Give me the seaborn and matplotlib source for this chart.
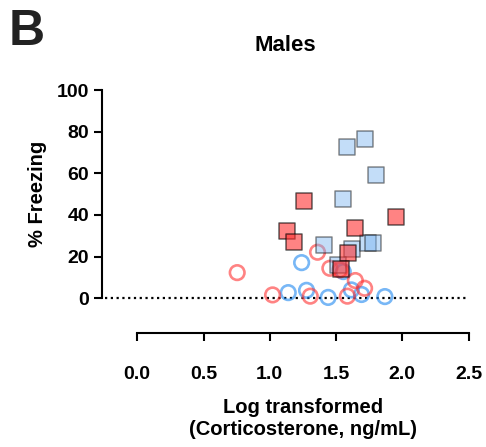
import matplotlib
matplotlib.use("Agg")
import matplotlib.pyplot as plt
import seaborn as sns

# ---- data ----
blue_sq_x = [1.579, 1.720, 1.800, 1.551, 1.410, 1.617, 1.742, 1.780, 1.514]
blue_sq_y = [72.8, 76.6, 59.2, 47.8, 25.7, 23.7, 26.7, 26.7, 16.0]
red_sq_x = [1.127, 1.182, 1.259, 1.642, 1.951, 1.591, 1.536]
red_sq_y = [32.5, 26.9, 46.7, 33.6, 39.0, 21.6, 14.0]
blue_ci_x = [1.240, 1.554, 1.615, 1.692, 1.868, 1.440, 1.277, 1.139]
blue_ci_y = [17.1, 12.8, 4.0, 1.8, 0.8, 0.4, 3.8, 2.7]
red_ci_x = [0.754, 1.360, 1.453, 1.529, 1.645, 1.715, 1.585, 1.305, 1.021]
red_ci_y = [12.3, 22.1, 14.4, 13.6, 8.5, 4.8, 1.0, 1.0, 1.6]

x_ticks = [0.0, 0.5, 1.0, 1.5, 2.0, 2.5]
x_ticklabels = ["0.0", "0.5", "1.0", "1.5", "2.0", "2.5"]
y_ticks = [0, 20, 40, 60, 80, 100]

sns.set_style("ticks")
plt.rcParams["font.family"] = ["Liberation Sans", "DejaVu Sans"]
plt.rcParams["font.weight"] = "bold"
plt.rcParams["text.color"] = "black"
plt.rcParams["axes.labelcolor"] = "black"

fig = plt.figure(figsize=(4.86, 4.47), dpi=100)
ax = fig.add_axes([0.2093, 0.255, 0.755, 0.5436])

RED = "#FF3030"
BLUE_SQ = "#7AB4F0"
BLUE_CI = "#1E88F0"

sns.scatterplot(x=blue_ci_x, y=blue_ci_y, ax=ax, marker="o", s=110,
                facecolors="none", edgecolor=BLUE_CI, linewidth=1.9, alpha=0.6, zorder=3)
sns.scatterplot(x=red_ci_x, y=red_ci_y, ax=ax, marker="o", s=110,
                facecolors="none", edgecolor=RED, linewidth=1.9, alpha=0.6, zorder=3)
sns.scatterplot(x=blue_sq_x, y=blue_sq_y, ax=ax, marker="s", s=118,
                color=BLUE_SQ, edgecolor="black", linewidth=1.1, alpha=0.45, zorder=4)
sns.scatterplot(x=red_sq_x, y=red_sq_y, ax=ax, marker="s", s=118,
                color=RED, edgecolor="black", linewidth=1.1, alpha=0.6, zorder=4)

ax.axhline(0, xmin=0.01, xmax=1.0, color="black", lw=1.6,
           linestyle=(0, (1, 1.6)), zorder=2)

ax.set_xlim(-0.268, 2.5)
ax.set_ylim(-16.7, 100)

ax.spines["top"].set_visible(False)
ax.spines["right"].set_visible(False)
ax.spines["left"].set_bounds(0, 100)
ax.spines["bottom"].set_bounds(0, 2.5)
for s in ("left", "bottom"):
    ax.spines[s].set_linewidth(1.5)
    ax.spines[s].set_color("black")

ax.set_xticks(x_ticks)
ax.set_xticklabels(x_ticklabels)
ax.set_yticks(y_ticks)
ax.tick_params(axis="both", width=1.5, length=6, color="black",
               labelsize=14, labelcolor="black")
ax.tick_params(axis="x", pad=18)
ax.tick_params(axis="y", pad=3)
for lab in ax.get_xticklabels() + ax.get_yticklabels():
    lab.set_fontweight("bold")

ax.set_xlabel("")
ax.set_ylabel("")
fig.text(303 / 486, 1 - 435 / 447, "Log transformed\n(Corticosterone, ng/mL)",
         ha="center", va="baseline", fontsize=14.5, fontweight="bold",
         linespacing=1.2, multialignment="center")
ax.text(-0.176, 0.5716, "% Freezing", rotation=90, ha="center", va="center",
        transform=ax.transAxes, fontsize=14.5, fontweight="bold")

fig.text(285.5 / 486, 1 - 50.7 / 447, "Males", ha="center", va="baseline",
         fontsize=16, fontweight="bold")
fig.text(9 / 486, 1 - 45 / 447, "B", ha="left", va="baseline",
         fontsize=36, fontweight="bold", color="#222222")

fig.savefig("out.png", dpi=100)
